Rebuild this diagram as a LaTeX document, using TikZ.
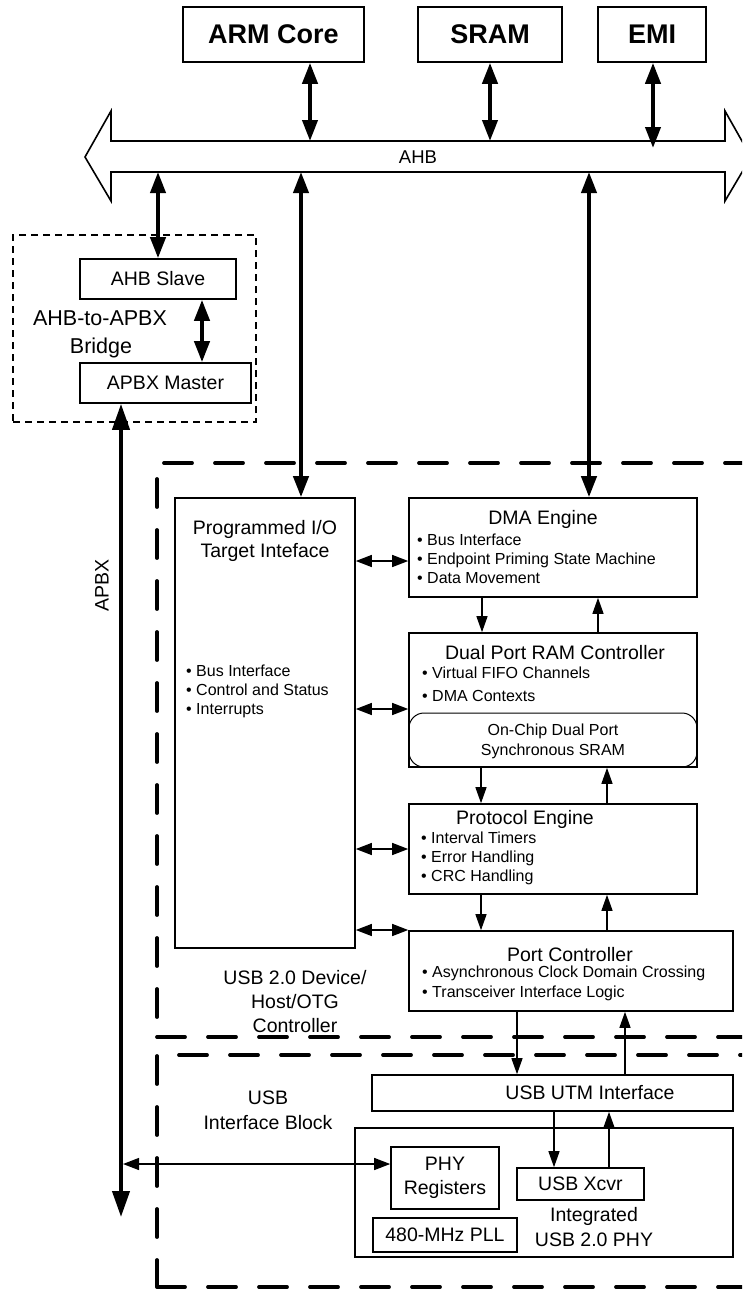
\documentclass[tikz,border=0pt]{standalone}
\usepackage{fontspec}
\setmainfont{Liberation Sans}
\usetikzlibrary{arrows.meta}
\begin{document}
\begin{tikzpicture}[x=1pt,y=-1pt,
  box/.style={draw, line width=1.6pt, inner sep=0pt, fill=white},
  thickdash/.style={draw, line width=3.8pt, dash pattern=on 28pt off 23pt, line cap=round, inner sep=0pt},
  thindash/.style={draw, line width=1.2pt, dash pattern=on 7pt off 5pt, inner sep=0pt},
  bigarr/.style={line width=4pt, >={Triangle[width=15pt,length=21pt]}, <->},
  apbxarr/.style={line width=4pt, >={Triangle[width=17pt,length=26pt]}, <->},
  smarr/.style={line width=1.3pt, >={Triangle[width=11pt,length=16pt]}, ->},
  smbi/.style={line width=1.3pt, >={Triangle[width=12pt,length=16pt]}, <->},
  fT/.style={font=\fontsize{19.5}{23}\selectfont, inner sep=0pt},
  fM/.style={font=\fontsize{19.5}{23}\selectfont, inner sep=0pt},
  fB/.style={font=\fontsize{16}{19}\selectfont, inner sep=0pt},
  fBold/.style={font=\fontsize{27}{31}\selectfont\bfseries, inner sep=0pt},
  ttl/.style={fT, anchor=base},
  bul/.style={fB, anchor=base west}
]
\useasboundingbox (0,0) rectangle (742,1291);
\clip (0,0) rectangle (742,1291);
\fill[white] (0,0) rectangle (742,1291);

% containers
\node[thickdash, minimum width=623pt, minimum height=574pt] (dev) at (468.5,750) {};
\node[thickdash, minimum width=623pt, minimum height=232pt] (ifb) at (468.5,1171) {};
\node[thindash, minimum width=243pt, minimum height=187pt] (bridge) at (134.5,328.5) {};

% top boxes
\node[box, fBold, minimum width=181pt, minimum height=55pt] (arm) at (273.5,34.5) {ARM Core};
\node[box, fBold, minimum width=144pt, minimum height=55pt] (sram) at (490,34.5) {SRAM};
\node[box, fBold, minimum width=108pt, minimum height=55pt] (emi) at (652,34.5) {EMI};

% AHB bus
\draw[line width=1.6pt, fill=white] (85,157) -- (111,111) -- (111,141) -- (725,141) -- (725,111)
  -- (751,157) -- (725,201) -- (725,172) -- (111,172) -- (111,201) -- cycle;
\node[font=\fontsize{18.5}{21}\selectfont, inner sep=0pt, anchor=base] (ahb) at (418,163.5) {AHB};
\coordinate (bt) at (0,141);
\coordinate (bb) at (0,172);
\coordinate (emib) at (653,148);

% bridge
\node[box, fM, minimum width=156pt, minimum height=40pt] (slave) at (158,279) {AHB Slave};
\node[box, fM, minimum width=171pt, minimum height=40pt] (master) at (165.5,383) {APBX Master};
\node[font=\fontsize{21.5}{25}\selectfont, inner sep=0pt, anchor=base] (brt1) at (100,325.5) {AHB-to-APBX};
\node[font=\fontsize{21.5}{25}\selectfont, inner sep=0pt, anchor=base] (brt2) at (101,353.5) {Bridge};

% controller blocks
\node[box, minimum width=180pt, minimum height=450pt] (pio) at (265,723) {};
\node[box, minimum width=288pt, minimum height=99pt] (dma) at (553,547.5) {};
\node[box, minimum width=288pt, minimum height=134pt] (dpram) at (553,700) {};
\node[draw, line width=1pt, rounded corners=15pt, inner sep=0pt, minimum width=288pt, minimum height=54pt] (sramin) at (553,740) {};
\node[box, minimum width=288pt, minimum height=90pt] (pe) at (553,849) {};
\node[box, minimum width=324pt, minimum height=80pt] (pc) at (571,971) {};

% USB interface blocks
\node[box, minimum width=361pt, minimum height=36pt] (utm) at (552.5,1093) {};
\node[box, minimum width=378pt, minimum height=129pt] (phy) at (544,1192.5) {};
\node[box, fT, align=center, minimum width=108pt, minimum height=62pt] (phyreg) at (445,1178) {PHY\\[1pt]Registers};
\node[box, fT, minimum width=127pt, minimum height=32pt] (xcvr) at (580.5,1184) {USB Xcvr};
\node[box, fT, minimum width=144pt, minimum height=34pt] (pll) at (445,1235) {480-MHz PLL};

% texts
\node[ttl] (piot1) at (265,534) {Programmed I/O};
\node[ttl] (piot2) at (265,557) {Target Inteface};
\node[bul] (piob1) at (186,676.6) {• Bus Interface};
\node[bul] (piob2) at (186,695.6) {• Control and Status};
\node[bul] (piob3) at (186,714.6) {• Interrupts};

\node[ttl] (dmat) at (543,524) {DMA Engine};
\node[bul] (dmab1) at (417,545.6) {• Bus Interface};
\node[bul] (dmab2) at (417,564.6) {• Endpoint Priming State Machine};
\node[bul] (dmab3) at (417,583.6) {• Data Movement};

\node[ttl] (dpt) at (555,659) {Dual Port RAM Controller};
\node[bul] (dpb1) at (422,678.6) {• Virtual FIFO Channels};
\node[bul] (dpb2) at (422,701.6) {• DMA Contexts};
\node[fB, anchor=base] (srt1) at (553,735.6) {On-Chip Dual Port};
\node[fB, anchor=base] (srt2) at (553,755.6) {Synchronous SRAM};

\node[ttl] (pet) at (525,824) {Protocol Engine};
\node[bul] (peb1) at (421,843.6) {• Interval Timers};
\node[bul] (peb2) at (421,862.6) {• Error Handling};
\node[bul] (peb3) at (421,881.6) {• CRC Handling};

\node[ttl] (pct) at (570,961) {Port Controller};
\node[bul] (pcb1) at (422,977.6) {• Asynchronous Clock Domain Crossing};
\node[bul] (pcb2) at (422,997.6) {• Transceiver Interface Logic};

\node[ttl] (devt1) at (295,984) {USB 2.0 Device/};
\node[ttl] (devt2) at (295,1008) {Host/OTG};
\node[ttl] (devt3) at (295,1032) {Controller};

\node[ttl] (utmt) at (590,1099) {USB UTM Interface};
\node[ttl] (phyt1) at (594,1221) {Integrated};
\node[ttl] (phyt2) at (594,1246) {USB 2.0 PHY};
\node[ttl] (ifbt1) at (268,1104) {USB};
\node[ttl] (ifbt2) at (268,1129) {Interface Block};

\node[fT, rotate=90] (apbxt) at (102,585) {APBX};

% bus connectors
\draw[bigarr] (310,0 |- arm.south) -- (310,0 |- bt);
\draw[bigarr] (490,0 |- sram.south) -- (490,0 |- bt);
\draw[bigarr] (653,0 |- emi.south) -- (emib);
\draw[bigarr] (158,0 |- bb) -- (158,0 |- slave.north);
\draw[bigarr] (301,0 |- bb) -- (301,0 |- pio.north);
\draw[bigarr] (589,0 |- bb) -- (589,0 |- dma.north);
\draw[bigarr] (202,0 |- slave.south) -- (202,0 |- master.north);

% APBX
\coordinate (apbxend) at (121,1217);
\draw[apbxarr] (121,0 |- master.south) -- (apbxend);
\coordinate (apbxj) at (123,1164);
\draw[smbi] (apbxj) -- (phyreg.west |- apbxj);

% horizontal links
\draw[smbi] (pio.east |- 0,561) -- (dma.west |- 0,561);
\draw[smbi] (pio.east |- 0,709) -- (dpram.west |- 0,709);
\draw[smbi] (pio.east |- 0,849) -- (pe.west |- 0,849);
\draw[smbi] (pio.east |- 0,930) -- (pc.west |- 0,930);

% vertical links
\draw[smarr] (482,0 |- dma.south) -- (482,0 |- dpram.north);
\draw[smarr] (598,0 |- dpram.north) -- (598,0 |- dma.south);
\draw[smarr] (481,0 |- dpram.south) -- (481,0 |- pe.north);
\draw[smarr] (607,0 |- pe.north) -- (607,0 |- dpram.south);
\draw[smarr] (481,0 |- pe.south) -- (481,0 |- pc.north);
\draw[smarr] (607,0 |- pc.north) -- (607,0 |- pe.south);
\draw[smarr] (517,0 |- pc.south) -- (517,0 |- utm.north);
\draw[smarr] (625,0 |- utm.north) -- (625,0 |- pc.south);
\draw[smarr] (554,0 |- utm.south) -- (554,0 |- xcvr.north);
\draw[smarr] (609,0 |- xcvr.north) -- (609,0 |- utm.south);
\end{tikzpicture}
\end{document}
